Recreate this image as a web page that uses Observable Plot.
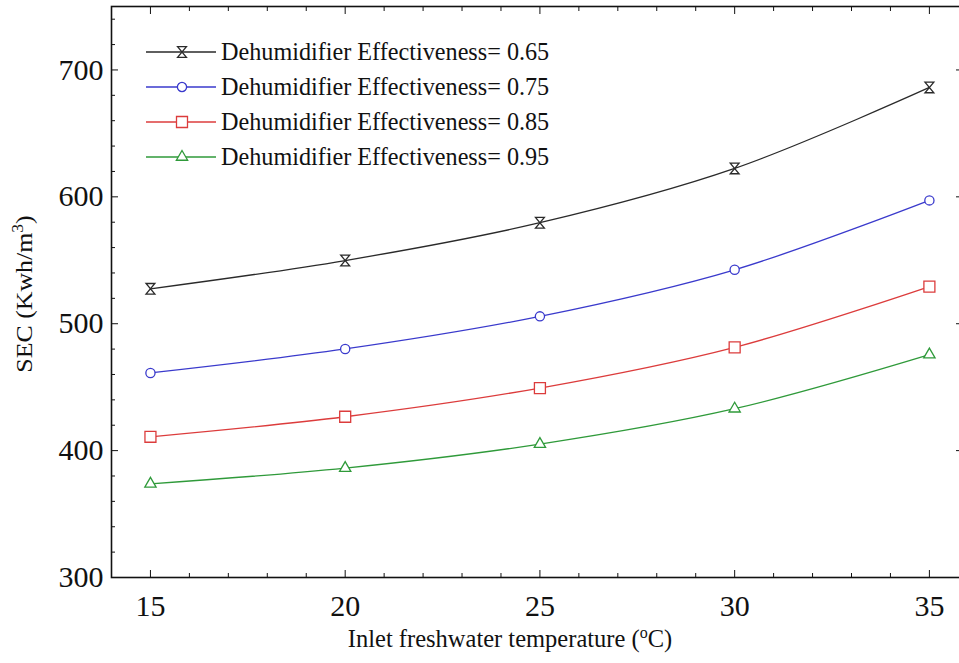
<!DOCTYPE html>
<html>
<head>
<meta charset="utf-8">
<script src="https://cdn.jsdelivr.net/npm/d3@7"></script>
<script src="https://cdn.jsdelivr.net/npm/@observablehq/plot@0.6"></script>
<style>
  html, body { margin: 0; padding: 0; background: #fff; overflow: hidden; }
  #chart { width: 959px; height: 663px; overflow: hidden; }
  #chart svg { max-width: none !important; }
</style>
</head>
<body>
<div id="chart"></div>
<script>
// ---- data ----
const temps = [15, 20, 25, 30, 35];
const sec065 = [527.5, 549.8, 579.6, 622.4, 686.2];
const sec075 = [461.2, 480.1, 505.8, 542.5, 597.2];
const sec085 = [410.9, 426.7, 449.3, 481.4, 529.3];
const sec095 = [373.8, 386.2, 405.1, 433.0, 475.6];
const seriesLabels = ["Dehumidifier Effectiveness= 0.65", "Dehumidifier Effectiveness= 0.75",
                      "Dehumidifier Effectiveness= 0.85", "Dehumidifier Effectiveness= 0.95"];
const xMajor = [15, 20, 25, 30, 35];
const xMinor = d3.range(14, 36, 1).filter(v => !xMajor.includes(v));
const yMajor = [300, 400, 500, 600, 700];
const yMinor = d3.range(300, 751, 20).filter(v => !yMajor.includes(v));

// ---- styles ----
const hourglass = {
  draw(ctx, size) {
    const w = Math.sqrt(size) * 0.5, h = Math.sqrt(size) * 0.6;
    ctx.moveTo(-w, -h); ctx.lineTo(w, -h); ctx.lineTo(-w, h); ctx.lineTo(w, h); ctx.closePath();
  }
};
const styles = [
  {color: "#2a2a2a", symbol: hourglass, r: 5},
  {color: "#3a3acc", symbol: "circle", r: 4.6},
  {color: "#dc3c3c", symbol: "square", r: 6.2},
  {color: "#2f9a3a", symbol: "triangle", r: 4.2}
];
const seriesValues = [sec065, sec075, sec085, sec095];
const series = seriesValues.map((vals, i) => ({
  label: seriesLabels[i],
  rows: temps.map((t, j) => ({t, v: vals[j]})),
  ...styles[i]
}));

const font = "'Liberation Serif', 'Times New Roman', serif";
const blank = () => "";

const marks = [
  Plot.axisX({ticks: xMajor, tickSize: 0, tickPadding: 17, label: null, fontSize: 30}),
  Plot.axisX({ticks: xMajor, tickSize: -7, tickFormat: blank, label: null}),
  Plot.axisX({ticks: xMinor, tickSize: -4, tickFormat: blank, label: null}),
  Plot.axisX({anchor: "top", ticks: xMajor, tickSize: -7, tickFormat: blank, label: null}),
  Plot.axisX({anchor: "top", ticks: xMinor, tickSize: -4, tickFormat: blank, label: null}),
  Plot.axisY({ticks: yMajor, tickSize: 0, tickPadding: 8, label: null, fontSize: 30}),
  Plot.axisY({ticks: yMajor, tickSize: -7, tickFormat: blank, label: null}),
  Plot.axisY({ticks: yMinor, tickSize: -4, tickFormat: blank, label: null}),
  Plot.axisY({anchor: "right", ticks: yMajor, tickSize: -7, tickFormat: blank, label: null}),
  Plot.axisY({anchor: "right", ticks: yMinor, tickSize: -4, tickFormat: blank, label: null}),
  Plot.frame({stroke: "#111", strokeWidth: 1.6})
];
for (const s of series) {
  marks.push(Plot.line(s.rows, {x: "t", y: "v", stroke: s.color, strokeWidth: 1.3, curve: "catmull-rom"}));
  marks.push(Plot.dot(s.rows, {x: "t", y: "v", stroke: s.color, fill: "white", strokeWidth: 1.3, symbol: s.symbol, r: s.r}));
}

const plot = Plot.plot({
  width: 962, height: 663,
  marginLeft: 111, marginRight: 0, marginTop: 6, marginBottom: 86,
  style: {fontFamily: font, fontSize: "30px", color: "#111", background: "white", overflow: "visible", maxWidth: "none"},
  x: {domain: [14, 35.85]},
  y: {domain: [300, 750]},
  marks
});
plot.style.maxWidth = "none";
document.getElementById("chart").appendChild(plot);

// ---- legend and axis titles ----
const svg = d3.select(plot);
const leg = svg.append("g").attr("font-family", font).attr("font-size", 24.2).attr("fill", "#111")
  .attr("text-anchor", "start");
series.forEach((s, i) => {
  const y = 52 + i * 35;
  const g = leg.append("g");
  g.append("line").attr("x1", 146).attr("x2", 216).attr("y1", y).attr("y2", y)
    .attr("stroke", s.color).attr("stroke-width", 1.3);
  const type = typeof s.symbol === "string"
    ? {circle: d3.symbolCircle, square: d3.symbolSquare, triangle: d3.symbolTriangle}[s.symbol]
    : s.symbol;
  g.append("path").attr("d", d3.symbol(type, s.r * s.r * Math.PI)())
    .attr("transform", `translate(182,${y})`)
    .attr("fill", "white").attr("stroke", s.color).attr("stroke-width", 1.3);
  g.append("text").attr("x", 221).attr("y", y + 8).attr("text-anchor", "start").text(s.label);
});

const xl = svg.append("text").attr("font-family", font).attr("font-size", 24.5).attr("fill", "#111")
  .attr("text-anchor", "middle").attr("x", 510).attr("y", 647);
xl.append("tspan").text("Inlet freshwater temperature (");
xl.append("tspan").attr("dy", -9).attr("font-size", 16).text("o");
xl.append("tspan").attr("dy", 9).text("C)");

const yl = svg.append("text").attr("font-family", font).attr("font-size", 23.5).attr("fill", "#111")
  .attr("text-anchor", "middle").attr("transform", "translate(32,294) rotate(-90) scale(1.1,1)");
yl.append("tspan").text("SEC (Kwh/m");
yl.append("tspan").attr("dy", -9).attr("font-size", 16).text("3");
yl.append("tspan").attr("dy", 9).text(")");
</script>
</body>
</html>
